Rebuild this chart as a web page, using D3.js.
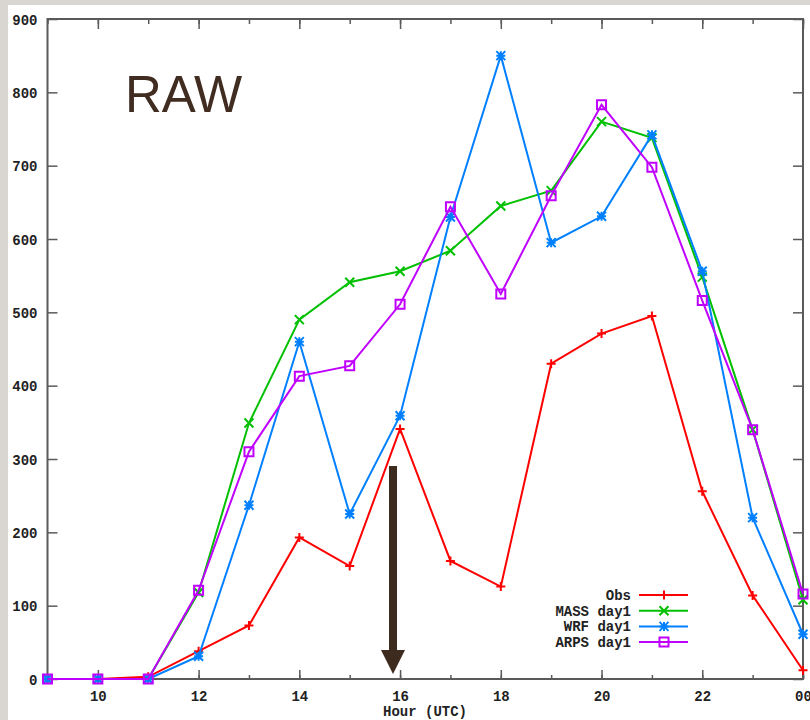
<!DOCTYPE html>
<html>
<head>
<meta charset="utf-8">
<script src="https://cdn.jsdelivr.net/npm/d3@7"></script>
<style>
  body { margin: 0; background: #d9d6d1; }
  svg { display: block; }
  .tick text { font-family: "Liberation Mono", "DejaVu Sans Mono", monospace; font-weight: bold; font-size: 14px; fill: #222; }
</style>
</head>
<body>
<script>
// hours 9..24 (24 shown as 00)
var hours = [9, 10, 11, 12, 13, 14, 15, 16, 17, 18, 19, 20, 21, 22, 23, 24];
var labelHours = [10, 12, 14, 16, 18, 20, 22, 24];
var hourLabels = ["10", "12", "14", "16", "18", "20", "22", "00"];
var yTicks = [0, 100, 200, 300, 400, 500, 600, 700, 800, 900];

var obs  = [0, 0, 3, 38, 73, 193, 154, 341, 161, 126, 430, 471, 495, 256, 114, 12];
var mass = [0, 0, 0, 118, 349, 490, 541, 556, 584, 645, 666, 760, 738, 548, 340, 108];
var wrf  = [0, 0, 0, 31, 237, 460, 225, 359, 630, 850, 595, 631, 742, 556, 220, 61];
var arps = [0, 0, 0, 121, 310, 413, 427, 511, 644, 525, 659, 783, 698, 516, 340, 116];

var seriesNames = ["Obs", "MASS day1", "WRF day1", "ARPS day1"];
var seriesColors = ["#ff0000", "#00c000", "#0080ff", "#c000ff"];
var seriesData = [obs, mass, wrf, arps];
var seriesMarks = ["plus", "cross", "star", "square"];

var W = 810, H = 720;
var svg = d3.select("body").append("svg").attr("width", W).attr("height", H);

// white panel over the grey page
svg.append("rect").attr("x", 8).attr("y", 5).attr("width", W - 8).attr("height", H - 5).attr("fill", "#fff");

var x = d3.scaleLinear().domain([9, 24]).range([47.5, 803]);
var y = d3.scaleLinear().domain([0, 900]).range([679, 19]);

var axisColor = "#5a5a5a";

function styleAxis(g) {
    g.select(".domain").remove();
    g.selectAll(".tick line").attr("stroke", axisColor).attr("stroke-width", 1.5);
}

// bottom axis: minor ticks every hour, major at even hours with labels
svg.append("g").attr("transform", "translate(0,679)")
    .call(d3.axisBottom(x).tickValues(hours).tickSize(-4).tickFormat(""))
    .call(styleAxis);
var bottom = svg.append("g").attr("transform", "translate(0,679)")
    .call(d3.axisBottom(x).tickValues(labelHours).tickSize(-9)
        .tickFormat(function(d, i) { return hourLabels[i]; }))
    .call(styleAxis);
bottom.selectAll(".tick text").attr("dy", null).attr("y", 22);
// top axis mirror
svg.append("g").attr("transform", "translate(0,19)")
    .call(d3.axisTop(x).tickValues(hours).tickSize(-5).tickFormat(""))
    .call(styleAxis);
svg.append("g").attr("transform", "translate(0,19)")
    .call(d3.axisTop(x).tickValues(labelHours).tickSize(-10).tickFormat(""))
    .call(styleAxis);
// left and right
var left = svg.append("g").attr("transform", "translate(47.5,0)")
    .call(d3.axisLeft(y).tickValues(yTicks).tickSize(-10).tickPadding(10).tickFormat(d3.format("d")))
    .call(styleAxis);
left.selectAll(".tick text").attr("dy", "0.36em");
svg.append("g").attr("transform", "translate(803,0)")
    .call(d3.axisRight(y).tickValues(yTicks).tickSize(-10).tickFormat(""))
    .call(styleAxis);

// frame
svg.append("rect").attr("x", 47.5).attr("y", 19).attr("width", 803 - 47.5).attr("height", 660)
    .attr("fill", "none").attr("stroke", axisColor).attr("stroke-width", 2);

svg.append("text").attr("x", 425).attr("y", 716).attr("text-anchor", "middle")
    .style("font-family", "Liberation Mono, DejaVu Sans Mono, monospace").style("font-weight", "bold")
    .style("font-size", "14px").attr("fill", "#222").text("Hour (UTC)");

function markPath(type, s) {
    if (type == "plus") return "M" + (-s) + ",0H" + s + "M0," + (-s) + "V" + s;
    if (type == "cross") return "M" + (-s) + "," + (-s) + "L" + s + "," + s + "M" + (-s) + "," + s + "L" + s + "," + (-s);
    if (type == "star") return "M" + (-s) + ",0H" + s + "M0," + (-s) + "V" + s +
        "M" + (-s) + "," + (-s) + "L" + s + "," + s + "M" + (-s) + "," + s + "L" + s + "," + (-s);
    return "M" + (-s) + "," + (-s) + "H" + s + "V" + s + "H" + (-s) + "Z";
}

var line = d3.line().x(function(d, i) { return x(hours[i]); }).y(function(d) { return y(d); });

seriesData.forEach(function(vals, k) {
    var g = svg.append("g");
    g.append("path").datum(vals).attr("d", line).attr("fill", "none")
        .attr("stroke", seriesColors[k]).attr("stroke-width", 2);
    g.selectAll("path.mk").data(vals).enter().append("path").attr("class", "mk")
        .attr("transform", function(d, i) { return "translate(" + x(hours[i]) + "," + y(d) + ")"; })
        .attr("d", markPath(seriesMarks[k], 4.5))
        .attr("fill", "none").attr("stroke", seriesColors[k]).attr("stroke-width", 2);
});

// legend
var legend = svg.append("g");
seriesNames.forEach(function(name, k) {
    var ly = 595 + k * 15.7;
    legend.append("text").attr("x", 631).attr("y", ly).attr("text-anchor", "end").attr("dy", "0.36em")
        .style("font-family", "Liberation Mono, DejaVu Sans Mono, monospace").style("font-weight", "bold")
        .style("font-size", "14px").attr("fill", "#222").text(name);
    legend.append("line").attr("x1", 639).attr("x2", 688).attr("y1", ly).attr("y2", ly)
        .attr("stroke", seriesColors[k]).attr("stroke-width", 2);
    legend.append("path").attr("transform", "translate(664," + ly + ")")
        .attr("d", markPath(seriesMarks[k], 4.5)).attr("fill", "none")
        .attr("stroke", seriesColors[k]).attr("stroke-width", 2);
});

// annotation
svg.append("text").attr("x", 125).attr("y", 112)
    .style("font-family", "Liberation Sans, Arial, sans-serif").style("font-size", "51px")
    .attr("fill", "#402c20").text("RAW");

var arrow = svg.append("g").attr("fill", "#3e2b20");
arrow.append("rect").attr("x", 389).attr("y", 466).attr("width", 8).attr("height", 186);
arrow.append("path").attr("d", "M381,650L405,650L393,674Z");
</script>
</body>
</html>
